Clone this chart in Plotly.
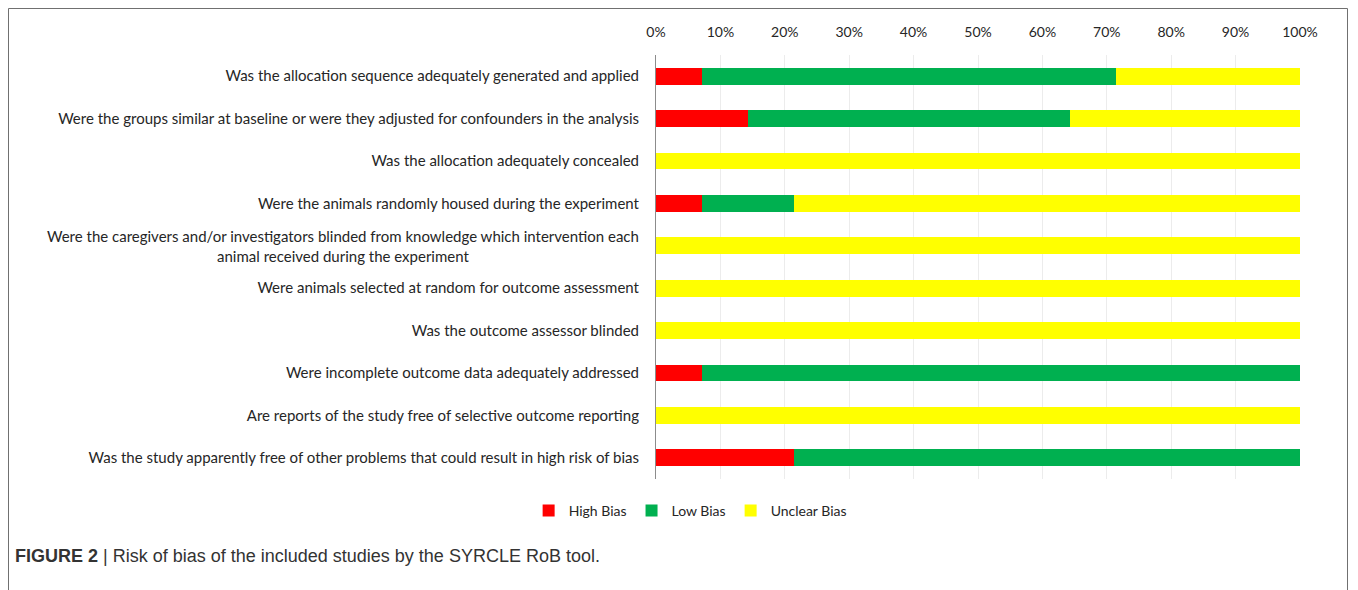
import plotly.graph_objects as go

questions = [
    "Was the allocation sequence adequately generated and applied",
    "Were the groups similar at baseline or were they adjusted for confounders in the analysis",
    "Was the allocation adequately concealed",
    "Were the animals randomly housed during the experiment",
    "Were the caregivers and/or investigators blinded from knowledge which intervention each<br>animal received during the experiment",
    "Were animals selected at random for outcome assessment",
    "Was the outcome assessor blinded",
    "Were incomplete outcome data adequately addressed",
    "Are reports of the study free of selective outcome reporting",
    "Was the study apparently free of other problems that could result in high risk of bias",
]
high_bias = [7.14, 14.29, 0, 7.14, 0, 0, 0, 7.14, 0, 21.43]
low_bias = [64.29, 50.0, 0, 14.29, 0, 0, 0, 92.86, 0, 78.57]
unclear_bias = [28.57, 35.71, 100, 78.57, 100, 100, 100, 0, 100, 0]
x_ticks = [0, 10, 20, 30, 40, 50, 60, 70, 80, 90, 100]
x_tick_labels = [f"{v}%" for v in x_ticks]

series = [("High Bias", high_bias, "#FF0000"),
          ("Low Bias", low_bias, "#00B050"),
          ("Unclear Bias", unclear_bias, "#FFFF00")]

cats = list(range(len(questions)))
fig = go.Figure()
for name, vals, col in series:
    fig.add_trace(go.Bar(
        y=cats, x=vals, name=name, orientation="h",
        marker=dict(color=col, line=dict(width=0)),
        hoverinfo="x+name",
    ))

LABEL_FONT = dict(family="Lato, 'Open Sans', sans-serif", size=15, color="#262626")

tick_text = [q if "<br>" not in q else "" for q in questions]

fig.update_layout(
    barmode="stack",
    bargap=0.6,
    width=1350, height=582,
    margin=dict(l=648, r=58, t=47, b=111),
    paper_bgcolor="white", plot_bgcolor="white",
    showlegend=True,
    legend=dict(orientation="h", x=0.053, xanchor="center", y=-0.075, yanchor="middle",
                font=dict(family="Lato, sans-serif", size=14, color="#262626"),
                itemwidth=30, traceorder="normal"),
    xaxis=dict(side="top", range=[0, 100], tickvals=x_ticks, ticktext=x_tick_labels,
               showgrid=True, gridcolor="#ececec", gridwidth=1, zeroline=False,
               showline=False, ticks="", ticklabelstandoff=14,
               tickfont=dict(family="Lato, sans-serif", size=14, color="#262626"),
               fixedrange=True),
    yaxis=dict(range=[len(questions) - 0.5, -0.5], tickvals=cats, ticktext=tick_text,
               showgrid=False, zeroline=False, showline=True, linecolor="#8c8c8c",
               linewidth=1, ticks="", ticklabelstandoff=13, tickfont=LABEL_FONT,
               fixedrange=True),
)

for i, q in enumerate(questions):
    if "<br>" in q:
        fig.add_annotation(xref="paper", yref="y", x=-0.0233, y=i, text=q,
                           showarrow=False, xanchor="right", yanchor="middle",
                           align="center", font=LABEL_FONT)

# outer frame (open at the bottom, as in the reference)
frame_l = (8.5 - 656) / 644
frame_r = (1347.5 - 656) / 644
frame_t = (479 - 8.5) / 424
frame_b = (479 - 640) / 424
frame_path = f"M {frame_l} {frame_b} L {frame_l} {frame_t} L {frame_r} {frame_t} L {frame_r} {frame_b}"
fig.add_shape(type="path", xref="paper", yref="paper", path=frame_path,
              line=dict(color="#707070", width=1), layer="below")

# caption
fig.add_annotation(xref="paper", yref="paper", x=(13 - 656) / 644, y=(479 - 556) / 424,
                   xanchor="left", yanchor="middle", showarrow=False, align="left",
                   text="<b>FIGURE 2</b> | Risk of bias of the included studies by the SYRCLE RoB tool.",
                   font=dict(family="'Liberation Sans Narrow', 'Liberation Sans', Arial, sans-serif",
                             size=18, color="#333333"))

fig.write_html("out.html")
